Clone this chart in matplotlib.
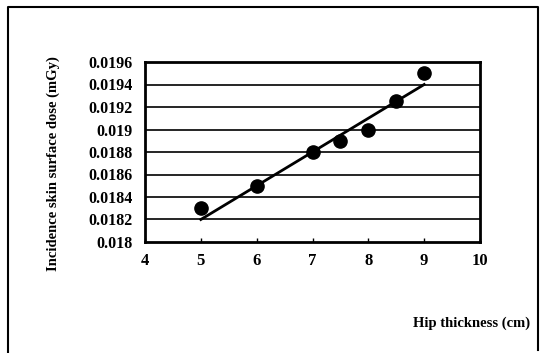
import matplotlib.pyplot as plt
from matplotlib.lines import Line2D

# measured points
thickness = [5, 6, 7, 7.5, 8, 8.5, 9]
dose = [0.0183, 0.0185, 0.0188, 0.0189, 0.0190, 0.01925, 0.0195]

# fitted line end points
fit_x = [5, 9]
fit_y = [0.0182, 0.0194]

y_ticks = [0.018, 0.0182, 0.0184, 0.0186, 0.0188, 0.019, 0.0192, 0.0194, 0.0196]
y_labels = ["0.018", "0.0182", "0.0184", "0.0186", "0.0188", "0.019", "0.0192", "0.0194", "0.0196"]
x_ticks = [4, 5, 6, 7, 8, 9, 10]

plt.rcParams['font.family'] = 'Liberation Serif'
plt.rcParams['font.weight'] = 'bold'

W, H = 541, 353
fig = plt.figure(figsize=(W / 100, H / 100), dpi=100)
ax = fig.add_axes([145 / W, 1 - 242 / H, (480 - 145) / W, (242 - 62) / H])

for yt in y_ticks[1:-1]:
    ax.axhline(yt, color='black', lw=1.2, zorder=1)

ax.plot(fit_x, fit_y, color='black', lw=2, zorder=2)
ax.plot(thickness, dose, 'o', color='black', ms=9.5, zorder=3)

ax.set_xlim(4, 10)
ax.set_ylim(0.018, 0.0196)
ax.set_xticks(x_ticks)
ax.set_yticks(y_ticks)
ax.set_yticklabels(y_labels)
ax.tick_params(axis='x', direction='in', length=3, width=1, pad=8, labelsize=12)
ax.tick_params(axis='y', length=0, pad=9, labelsize=11.5)
for s in ax.spines.values():
    s.set_linewidth(2)

fig.text(53 / W, 1 - 164 / H, "Incidence skin surface dose (mGy)", rotation=90,
         ha='center', va='center', fontsize=10.5, fontweight='bold')
fig.text(530 / W, 1 - 323 / H, "Hip thickness (cm)", ha='right', va='center',
         fontsize=10.5, fontweight='bold')

# outer frame (left, top, right)
fig.add_artist(Line2D([8 / W, 8 / W, 538 / W, 538 / W],
                      [0, 1 - 7 / H, 1 - 7 / H, 1 - 350 / H],
                      transform=fig.transFigure, color='black', lw=1.5))

fig.savefig("out.png", dpi=100)
